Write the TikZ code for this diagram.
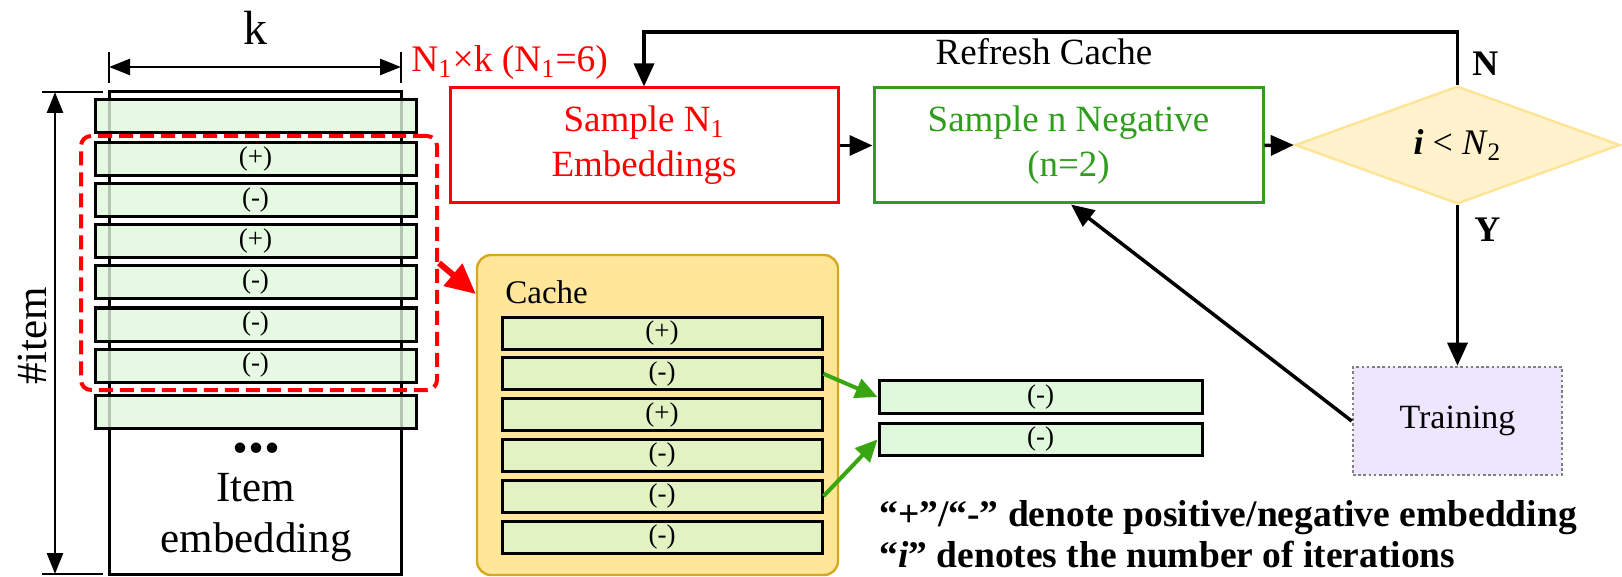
\documentclass[tikz,border=0pt]{standalone}
\usepackage{fontspec}
\setmainfont{Liberation Serif}
\usetikzlibrary{arrows.meta,shapes.geometric}
\definecolor{lgreen}{RGB}{224,248,220}
\definecolor{cgreen}{RGB}{226,242,194}
\definecolor{cachefill}{RGB}{255,230,153}
\definecolor{cachedraw}{RGB}{214,168,32}
\definecolor{dfill}{RGB}{255,242,204}
\definecolor{ddraw}{RGB}{255,228,150}
\definecolor{tfill}{RGB}{238,230,255}
\definecolor{myred}{RGB}{255,0,0}
\definecolor{mygreen}{RGB}{48,158,28}
\definecolor{arrgreen}{RGB}{56,166,16}
\newcommand{\fs}[2]{\fontsize{#1}{#2}\selectfont}
\begin{document}
\begin{tikzpicture}[x=0.5pt,y=-0.5pt,
  strip/.style={draw=black, line width=1.5pt, minimum width=160.5pt, minimum height=16.5pt, inner sep=0pt, font=\fs{13.5}{16}},
  lstrip/.style={strip, fill=lgreen, fill opacity=0.8, text opacity=1},
  cstrip/.style={strip, fill=cgreen, minimum width=160pt, minimum height=16pt},
  rstrip/.style={strip, fill=lgreen, minimum width=161.5pt, minimum height=16.25pt},
  arr/.style={line width=1.75pt, -{Triangle[length=11.5pt,width=10pt]}},
  dimarr/.style={line width=1.25pt, {Triangle[length=10.5pt,width=8pt]}-{Triangle[length=10.5pt,width=8pt]}},
  dimtick/.style={line width=1.25pt},
  txt/.style={inner sep=0pt, anchor=base},
  garr/.style={arrgreen, line width=2pt, -{Triangle[length=11pt,width=10pt]}},
  flowbox/.style={draw, line width=1.5pt, minimum width=194pt, minimum height=57.5pt, inner sep=0pt, align=center, font=\fs{18.5}{22.5}},
]
\useasboundingbox (0,0) rectangle (1622,577);

% item embedding block
\node[draw, line width=1.5pt, minimum width=146pt, minimum height=241pt, inner sep=0pt] (item) at (255,333) {};
\node[lstrip] (L0) at (255.5,116.5) {};
\node[lstrip] (L1) at (255.5,159.5) {(+)};
\node[lstrip] (L2) at (255.5,200.5) {(-)};
\node[lstrip] (L3) at (255.5,241.5) {(+)};
\node[lstrip] (L4) at (255.5,282.5) {(-)};
\node[lstrip] (L5) at (255.5,324.5) {(-)};
\node[lstrip] (L6) at (255.5,365.5) {(-)};
\node[lstrip] (L7) at (255.5,411.5) {};
\node[draw=myred, dash pattern=on 7pt off 3.5pt, line width=2pt, rounded corners=5pt, minimum width=178pt, minimum height=127pt, inner sep=0pt] (sel) at (259,263) {};
\node[txt, font=\bfseries\fs{32}{32}] (dots) at (256,452) {...};
\node[txt, font=\fs{21.5}{24}] (itemA) at (256,501) {Item};
\node[txt, font=\fs{21.5}{24}] (itemB) at (256,552) {embedding};

% dimensions
\node[txt, font=\fs{24}{26}] (klab) at (255,45) {k};
\coordinate (kL) at (109,67);
\coordinate (kR) at (401,67);
\draw[dimtick] (109,52) -- (109,83);
\draw[dimtick] (401,52) -- (401,83);
\draw[dimarr] (kL) -- (kR);
\node[txt, anchor=base west, text=myred, font=\fs{18.75}{20}] (nk) at (411,72) {N\textsubscript{1}×k (N\textsubscript{1}=6)};
\coordinate (hT) at (55,92);
\coordinate (hB) at (55,574);
\draw[dimtick] (42,92) -- (103,92);
\draw[dimtick] (42,574) -- (103,574);
\draw[dimarr] (hT) -- (hB);
\node[font=\fs{21.5}{24}, rotate=90, inner sep=0pt] (itemcnt) at (32,336) {\#item};

% cache
\node[draw=cachedraw, fill=cachefill, line width=1.2pt, rounded corners=7pt, minimum width=180.5pt, minimum height=160pt, inner sep=0pt] (cache) at (657.5,415) {};
\node[txt, anchor=base west, font=\fs{16.5}{18}] (cachelab) at (505,303) {Cache};
\node[cstrip] (C0) at (662,333) {(+)};
\node[cstrip] (C1) at (662,373.8) {(-)};
\node[cstrip] (C2) at (662,414.6) {(+)};
\node[cstrip] (C3) at (662,455.4) {(-)};
\node[cstrip] (C4) at (662,496.2) {(-)};
\node[cstrip] (C5) at (662,537) {(-)};
\draw[myred, line width=3pt, -{Triangle[length=15pt,width=14pt]}] (sel.east) -- (cache.west |- 0,294);

% selected negatives
\node[rstrip] (R0) at (1040.5,397) {(-)};
\node[rstrip] (R1) at (1040.5,439.5) {(-)};
\draw[garr] (C1.east) -- (R0.west);
\draw[garr] (C4.east) -- (R1.west);

% flow
\node[flowbox, draw=myred, text=myred] (sampA) at (644,145.5) {Sample N\textsubscript{1}\\Embeddings};
\node[flowbox, draw=mygreen, text=mygreen, minimum width=194.5pt] (sampB) at (1068.5,145.5) {Sample n Negative\\(n=2)};
\node[diamond, draw=ddraw, fill=dfill, line width=1.2pt, minimum width=162.5pt, minimum height=58pt, inner sep=0pt, font=\fs{18}{20}] (dec) at (1457.5,145) {\textbf{\textit{i}} < \textit{N}\textsubscript{2}};
\node[draw=gray, fill=tfill, line width=1.3pt, dash pattern=on 1.3pt off 1.3pt, minimum width=104.5pt, minimum height=54pt, inner sep=0pt, font=\fs{17}{19}] (train) at (1457.5,421) {Training};

\coordinate (loopy) at (0,32);
\draw[arr] (sampA.east) -- (sampB.west);
\draw[arr] (sampB.east) -- (dec.west);
\draw[arr] (dec.north) -- (dec.north |- loopy) -- (sampA.north |- loopy) -- (sampA.north);
\draw[arr] (dec.south) -- (train.north);
\draw[arr] (train.west) -- (sampB.south -| 1071,0);
\node[txt, font=\fs{18.5}{20}] (refresh) at (1044,65) {Refresh Cache};
\node[txt, anchor=base west, font=\bfseries\fs{18}{20}] (nlab) at (1472,76) {N};
\node[txt, anchor=base west, font=\bfseries\fs{18}{20}] (ylab) at (1474,242) {Y};

% legend
\node[txt, anchor=base west, font=\bfseries\fs{18.75}{20}] (leg1) at (879,526) {“+”/“-” denote positive/negative embedding};
\node[txt, anchor=base west, font=\bfseries\fs{18.75}{20}] (leg2) at (879,567) {“\textit{i}” denotes the number of iterations};
\end{tikzpicture}
\end{document}
